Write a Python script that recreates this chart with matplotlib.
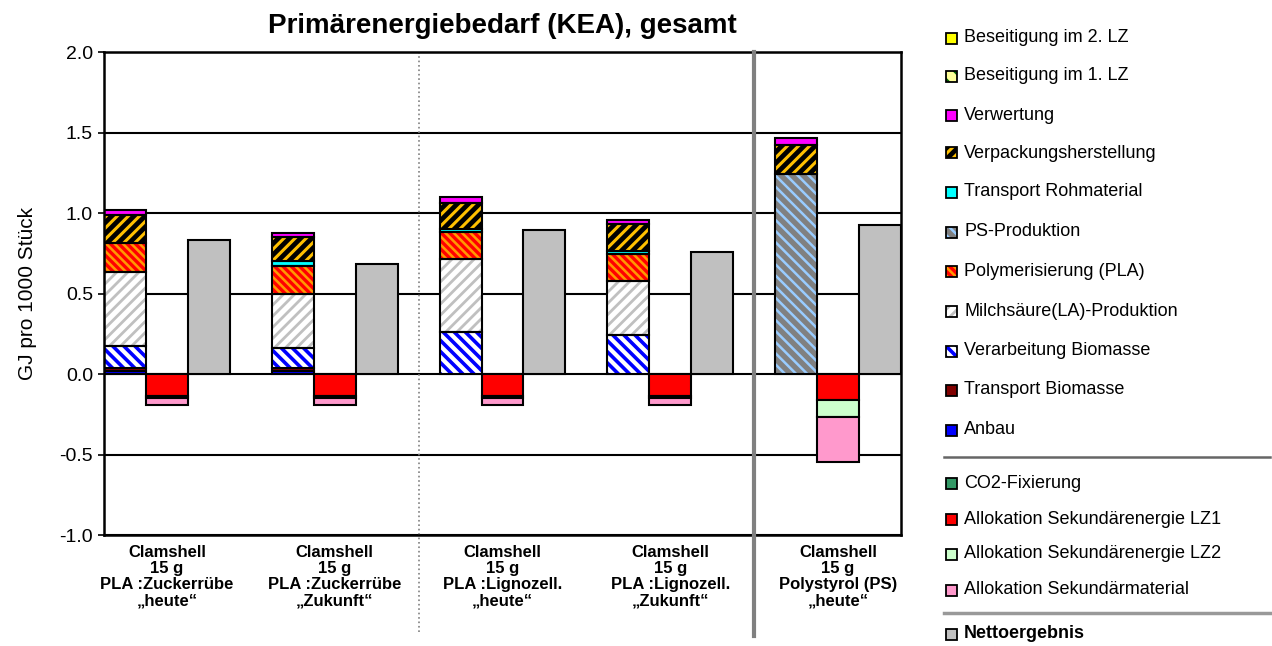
import matplotlib
matplotlib.use('Agg')
import matplotlib.pyplot as plt
from matplotlib.patches import Rectangle
from matplotlib.lines import Line2D

plt.rcParams['font.family'] = ['Liberation Sans', 'DejaVu Sans']
plt.rcParams['hatch.linewidth'] = 2.0

# --- data (GJ pro 1000 Stueck) ---
groups = ['Clamshell\n15 g\nPLA :Zuckerrübe\n„heute“',
          'Clamshell\n15 g\nPLA :Zuckerrübe\n„Zukunft“',
          'Clamshell\n15 g\nPLA :Lignozell.\n„heute“',
          'Clamshell\n15 g\nPLA :Lignozell.\n„Zukunft“',
          'Clamshell\n15 g\nPolystyrol (PS)\n„heute“']

anbau = [0.02, 0.02, 0.0, 0.0, 0.0]
transport_biomasse = [0.015, 0.015, 0.0, 0.0, 0.0]
verarbeitung = [0.136, 0.128, 0.26, 0.24, 0.0]
milchsaeure = [0.465, 0.336, 0.457, 0.338, 0.0]
polymerisierung = [0.18, 0.172, 0.168, 0.166, 0.0]
ps_produktion = [0.0, 0.0, 0.0, 0.0, 1.241]
transport_roh = [0.0, 0.03, 0.016, 0.02, 0.0]
verpackung = [0.17, 0.149, 0.164, 0.166, 0.181]
verwertung = [0.035, 0.028, 0.033, 0.027, 0.042]
beseitigung_1 = [0.0, 0.0, 0.0, 0.0, 0.0]
beseitigung_2 = [0.0, 0.0, 0.0, 0.0, 0.0]

co2_fixierung = [0.0, 0.0, 0.0, 0.0, 0.0]
alloc_lz1 = [-0.135, -0.135, -0.135, -0.135, -0.159]
alloc_lz2 = [-0.015, -0.015, -0.015, -0.015, -0.11]
alloc_material = [-0.04, -0.04, -0.04, -0.04, -0.277]

netto = [0.83, 0.686, 0.895, 0.76, 0.924]

# (label, values, face, hatch, hatch colour, hatch linewidth)
positive = [
    ('Anbau', anbau, '#0000FF', None, None, 0),
    ('Transport Biomasse', transport_biomasse, '#800000', None, None, 0),
    ('Verarbeitung Biomasse', verarbeitung, 'white', '\\\\\\', '#0000FF', 2.6),
    ('Milchsäure(LA)-Produktion', milchsaeure, 'white', '///', '#C0C0C0', 2.0),
    ('Polymerisierung (PLA)', polymerisierung, '#FF9900', '\\\\\\\\', '#FF0000', 2.4),
    ('PS-Produktion', ps_produktion, '#808080', '\\\\\\', '#99CCFF', 1.8),
    ('Transport Rohmaterial', transport_roh, '#00FFFF', None, None, 0),
    ('Verpackungsherstellung', verpackung, 'black', '///', '#FFC000', 2.2),
    ('Verwertung', verwertung, '#FF00FF', None, None, 0),
    ('Beseitigung im 1. LZ', beseitigung_1, '#FFFF99', '\\\\', '#006400', 2.0),
    ('Beseitigung im 2. LZ', beseitigung_2, '#FFFF00', None, None, 0),
]
negative = [
    ('CO2-Fixierung', co2_fixierung, '#339966', None, None, 0),
    ('Allokation Sekundärenergie LZ1', alloc_lz1, '#FF0000', None, None, 0),
    ('Allokation Sekundärenergie LZ2', alloc_lz2, '#CCFFCC', None, None, 0),
    ('Allokation Sekundärmaterial', alloc_material, '#FF99CC', None, None, 0),
]


def set_hlw(patch, lw):
    if hasattr(patch, 'set_hatch_linewidth'):
        patch.set_hatch_linewidth(lw)


def draw_bar(ax, x, h, b, face, hatch, hcol, hlw):
    if hatch:
        bars = ax.bar(x, h, bottom=b, width=1.0, color=face, hatch=hatch,
                      edgecolor=hcol, linewidth=0, zorder=2)
        for p in bars:
            set_hlw(p, hlw)
        ax.bar(x, h, bottom=b, width=1.0, fill=False, edgecolor='black',
               linewidth=1.5, zorder=3)
    else:
        ax.bar(x, h, bottom=b, width=1.0, color=face, edgecolor='black',
               linewidth=1.5, zorder=2)


fig = plt.figure(figsize=(12.72, 6.46), dpi=100)
ax = fig.add_axes([0.0818, 0.1718, 0.6265, 0.7477])

for g in range(len(groups)):
    x0 = 4 * g
    bottom = 0.0
    for name, vals, face, hatch, hcol, hlw in positive:
        if vals[g] > 0:
            draw_bar(ax, x0, vals[g], bottom, face, hatch, hcol, hlw)
            bottom += vals[g]
    bottom = 0.0
    for name, vals, face, hatch, hcol, hlw in negative:
        if vals[g] < 0:
            draw_bar(ax, x0 + 1, vals[g], bottom, face, hatch, hcol, hlw)
            bottom += vals[g]
    draw_bar(ax, x0 + 2, netto[g], 0, '#C0C0C0', None, None, 0)

ax.set_xlim(-0.5, 18.5)
ax.set_ylim(-1.0, 2.0)
ax.set_yticks([-1.0, -0.5, 0.0, 0.5, 1.0, 1.5, 2.0])
ax.set_yticklabels(['-1.0', '-0.5', '0.0', '0.5', '1.0', '1.5', '2.0'], fontsize=14)
ax.tick_params(axis='y', length=4, width=1.2, direction='out', pad=4)
ax.set_axisbelow(True)
ax.yaxis.grid(True, color='black', linewidth=1.5)
for s in ax.spines.values():
    s.set_linewidth(1.8)

ax.set_xticks([1, 5, 9, 13, 17])
ax.set_xticklabels(groups, fontsize=12, fontweight='bold', linespacing=1.1)
ax.tick_params(axis='x', length=0, pad=7)

ax.set_ylabel('GJ pro 1000 Stück', fontsize=15, labelpad=16)
ax.set_title('Primärenergiebedarf (KEA), gesamt', fontsize=20,
             fontweight='bold', pad=14)

# group separators
ax.axvline(7, ymin=-0.2, ymax=1, color='#808080', linestyle=':', linewidth=1.2,
           clip_on=False, zorder=1)
ax.axvline(15, ymin=-0.21, ymax=1, color='#808080', linewidth=3,
           clip_on=False, zorder=4)

# legend
W, H = 1272.0, 646.0


def legend_entry(y, label, face, hatch, hcol, hlw, bold=False):
    x = 946 / W
    yy = 1 - (y + 5.5) / H
    if hatch:
        p = Rectangle((x, yy), 11 / W, 11 / H, transform=fig.transFigure,
                      facecolor=face, hatch=hatch, edgecolor=hcol, linewidth=0)
        set_hlw(p, hlw)
        fig.add_artist(p)
        fig.add_artist(Rectangle((x, yy), 11 / W, 11 / H, transform=fig.transFigure,
                                 fill=False, edgecolor='black', linewidth=1.3))
    else:
        fig.add_artist(Rectangle((x, yy), 11 / W, 11 / H, transform=fig.transFigure,
                                 facecolor=face, edgecolor='black', linewidth=1.3))
    fig.text(964 / W, 1 - y / H, label, fontsize=13, va='center', ha='left',
             fontweight='bold' if bold else 'normal')


ys_top = [38, 76, 115, 153, 192, 232, 271, 311, 351, 390, 430]
for y, (name, vals, face, hatch, hcol, hlw) in zip(ys_top, positive[::-1]):
    legend_entry(y, name, face, hatch, hcol, hlw)
ys_neg = [483, 519, 554, 590]
for y, (name, vals, face, hatch, hcol, hlw) in zip(ys_neg, negative):
    legend_entry(y, name, face, hatch, hcol, hlw)
legend_entry(634, 'Nettoergebnis', '#C0C0C0', None, None, 0, bold=True)

fig.add_artist(Line2D([944 / W, 1270 / W], [1 - 457 / H, 1 - 457 / H],
                      transform=fig.transFigure, color='#666666', linewidth=1.8))
fig.add_artist(Line2D([944 / W, 1270 / W], [1 - 613 / H, 1 - 613 / H],
                      transform=fig.transFigure, color='#999999', linewidth=2.5))

fig.savefig('out.png', dpi=100)
